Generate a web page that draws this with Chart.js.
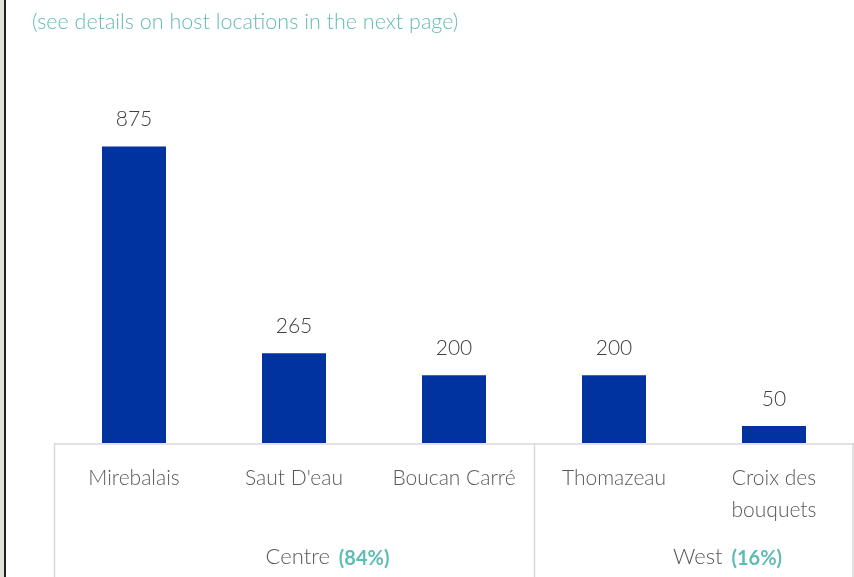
<!DOCTYPE html>
<html><head><meta charset="utf-8">
<script src="https://cdn.jsdelivr.net/npm/chart.js@4.4.1/dist/chart.umd.min.js"></script>
<style>
html,body{margin:0;padding:0;background:#fff;width:854px;height:577px;overflow:hidden;}
#wrap{position:absolute;left:0;top:0;width:854px;height:577px;}
#edge{position:absolute;left:0;top:0;width:4px;height:577px;background:#dfe4d6;border-right:2px solid #222;}
#sub{position:absolute;left:32px;top:8px;font-family:Lato,"Open Sans",sans-serif;font-weight:300;font-size:21.5px;color:#62bdb4;white-space:nowrap;}
</style></head>
<body>
<div id="wrap"><canvas id="c" width="854" height="577"></canvas></div>
<div id="edge"></div>
<div id="sub">(see details on host locations in the next page)</div>
<script>
const categories = [["Mirebalais"], ["Saut D'eau"], ["Boucan Carré"], ["Thomazeau"], ["Croix des", "bouquets"]];
const values = [875, 265, 200, 200, 50];
const groupNames = ["Centre", "West"];
const groupShares = ["(84%)", "(16%)"];
const groupSizes = [3, 2];

const FONT = 'Lato, "Open Sans", sans-serif';

const customPlugin = {
  id: 'custom',
  afterDatasetsDraw(chart) {
    const ctx = chart.ctx;
    const x = chart.scales.x;
    const ca = chart.chartArea;
    const meta = chart.getDatasetMeta(0);
    ctx.save();
    // data labels
    ctx.font = '300 21px ' + FONT;
    ctx.fillStyle = '#404040';
    ctx.textAlign = 'center';
    ctx.textBaseline = 'middle';
    meta.data.forEach((bar, i) => {
      ctx.fillText(String(values[i]), bar.x, bar.y - 27);
    });
    // baseline + separators
    ctx.strokeStyle = '#d9d9d9';
    ctx.lineWidth = 1.5;
    ctx.beginPath();
    ctx.moveTo(ca.left, ca.bottom + 1);
    ctx.lineTo(ca.right, ca.bottom + 1);
    ctx.stroke();
    const half = (x.getPixelForValue(1) - x.getPixelForValue(0)) / 2;
    let idx = 0;
    const bounds = [x.getPixelForValue(0) - half];
    groupSizes.forEach(s => { idx += s; bounds.push(x.getPixelForValue(idx - 1) + half); });
    bounds.forEach(b => {
      const bx = Math.min(Math.round(b) + 0.5, chart.width - 1);
      ctx.beginPath();
      ctx.moveTo(bx, ca.bottom);
      ctx.lineTo(bx, chart.height);
      ctx.stroke();
    });
    // category labels
    ctx.font = '300 21px ' + FONT;
    ctx.fillStyle = '#595959';
    categories.forEach((lines, i) => {
      const cx = x.getPixelForValue(i);
      lines.forEach((ln, j) => ctx.fillText(ln, cx, ca.bottom + 35 + j * 32));
    });
    // group labels
    groupNames.forEach((g, i) => {
      const center = (bounds[i] + bounds[i + 1]) / 2 + 32;
      const f1 = '300 22px ' + FONT, f2 = 'bold 20px ' + FONT;
      ctx.font = f1; const w1 = ctx.measureText(g + ' ').width;
      ctx.font = f2; const w2 = ctx.measureText(groupShares[i]).width;
      let sx = center - (w1 + w2) / 2;
      ctx.textAlign = 'left';
      ctx.font = f1; ctx.fillStyle = '#595959';
      ctx.fillText(g + ' ', sx, ca.bottom + 114);
      ctx.font = f2; ctx.fillStyle = '#5dbcb3';
      ctx.fillText(groupShares[i], sx + w1 + 3, ca.bottom + 116);
    });
    ctx.restore();
  }
};

new Chart(document.getElementById('c'), {
  type: 'bar',
  data: {
    labels: categories.map(c => c.join(' ')),
    datasets: [{
      data: values,
      backgroundColor: '#0033a0',
      borderWidth: 0,
      barPercentage: 0.8,
      categoryPercentage: 0.5
    }]
  },
  options: {
    responsive: false,
    animation: false,
    events: [],
    layout: { padding: { left: 54, right: 0, top: 104, bottom: 0 } },
    plugins: { legend: { display: false }, tooltip: { enabled: false }, title: { display: false } },
    scales: {
      x: {
        grid: { display: false },
        border: { display: false },
        ticks: { display: false },
        afterFit(s) { s.height = 134; }
      },
      y: {
        display: false,
        min: 0, max: 1000
      }
    }
  },
  plugins: [customPlugin]
});
</script>
</body></html>
